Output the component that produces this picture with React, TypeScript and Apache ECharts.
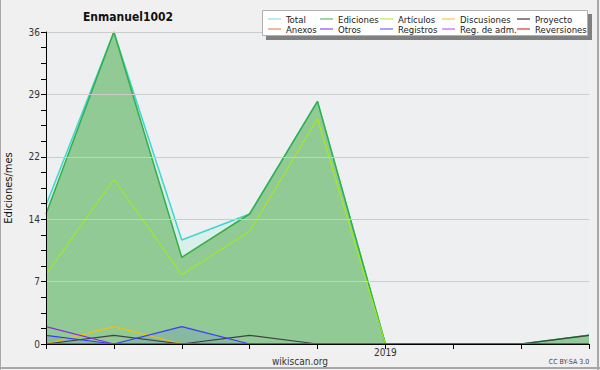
import React, { useEffect, useRef } from "react";
import * as echarts from "echarts";

const months = ["2018-08", "2018-09", "2018-10", "2018-11", "2018-12", "2019-01", "2019-02", "2019-03", "2019-04"];
const yearLabels = ["", "", "", "", "", "2019", "", "", ""];
const yTickLabels = ["0", "7", "14", "22", "29", "36"];

const total = [16, 36, 12, 15, 28, 0, 0, 0, 1];
const ediciones = [15, 36, 10, 15, 28, 0, 0, 0, 1];
const articulos = [8, 19, 8, 13, 26, 0, 0, 0, 0];
const discusiones = [0, 2, 0, 0, 0, 0, 0, 0, 0];
const proyecto = [0, 1, 0, 1, 0, 0, 0, 0, 1];
const anexos = [0, 0, 0, 0, 0, 0, 0, 0, 0];
const otros = [2, 0, 0, 0, 0, 0, 0, 0, 0];
const registros = [1, 0, 2, 0, 0, 0, 0, 0, 0];
const regAdm = [0, 0, 0, 0, 0, 0, 0, 0, 0];
const reversiones = [0, 0, 0, 0, 0, 0, 0, 0, 0];

const seriesNames = ["Total", "Ediciones", "Artículos", "Discusiones", "Proyecto", "Anexos", "Otros", "Registros", "Reg. de adm.", "Reversiones"];
const seriesValues = [total, ediciones, articulos, discusiones, proyecto, anexos, otros, registros, regAdm, reversiones];
const lineColors = ["#3fd6cf", "#35ae45", "#aaf000", "#f2c200", "#404040", "#f07030", "#8a2be2", "#3a3aff", "#c040e0", "#e02020"];
const legendColors = ["#a8e4e0", "#80c888", "#c8f070", "#f2d470", "#606060", "#f0a070", "#a070f0", "#8888f0", "#d080f0", "#e06060"];
const areaColors: (string | null)[] = ["#d9efe9", "#92ca96", null, null, null, null, null, "rgba(60,60,255,0.12)", null, null];
const lineWidths = [1.5, 1.5, 1, 1.2, 1.2, 1, 1.2, 1.2, 1, 1];

const FONT = "'DejaVu Sans Condensed', 'DejaVu Sans', sans-serif";
const legendCols = [268, 320, 380, 442, 517];

export default function App() {
  const ref = useRef<HTMLDivElement>(null);
  useEffect(() => {
    if (!ref.current) return;
    const chart = echarts.init(ref.current, null, { renderer: "svg" });
    const series = seriesNames.map((name, i) => ({
      name,
      type: "line",
      data: seriesValues[i],
      symbol: "none",
      lineStyle: { color: lineColors[i], width: lineWidths[i] },
      itemStyle: { color: lineColors[i] },
      areaStyle: areaColors[i] ? { color: areaColors[i], opacity: 1 } : undefined,
      z: 2,
    }));
    const legends = legendCols.map((left, c) => ({
      orient: "vertical",
      left,
      top: 14,
      padding: 0,
      icon: "rect",
      itemWidth: 13,
      itemHeight: 1.5,
      itemGap: 0,
      selectedMode: false,
      z: 20,
      textStyle: { fontFamily: FONT, fontSize: 9.5, lineHeight: 10, color: "#222" },
      data: [c, c + 5].map((k) => ({
        name: seriesNames[k],
        itemStyle: { color: legendColors[k] },
      })),
    }));
    chart.setOption({
      animation: false,
      backgroundColor: "#f0f0f0",
      grid: { left: 46, right: 11, top: 32, bottom: 26, outerBoundsMode: "none", containLabel: false, show: true, backgroundColor: "#eeeff1", borderWidth: 0 },
      legend: legends,
      xAxis: {
        type: "category",
        data: months,
        boundaryGap: false,
        z: 10,
        axisLine: { lineStyle: { color: "#000", width: 1 } },
        axisTick: { show: true, length: 5, lineStyle: { color: "#000" }, interval: 0 },
        axisLabel: {
          interval: 0,
          margin: 3,
          fontFamily: FONT,
          fontSize: 10,
          color: "#333",
          formatter: (_v: string, i: number) => yearLabels[i],
        },
        splitLine: { show: false },
      },
      yAxis: {
        type: "value",
        min: 0,
        max: 36,
        interval: 7.2,
        z: 10,
        name: "Ediciones/mes",
        nameLocation: "middle",
        nameGap: 32,
        nameRotate: 90,
        nameTextStyle: { fontFamily: FONT, fontSize: 11, color: "#111" },
        axisLine: { show: true, lineStyle: { color: "#000", width: 1 } },
        axisTick: { show: true, length: 5, lineStyle: { color: "#000" } },
        minorTick: { show: true, splitNumber: 4, length: 5, lineStyle: { color: "#000" } },
        axisLabel: {
          margin: 6,
          fontFamily: FONT,
          fontSize: 10,
          color: "#333",
          formatter: (v: number) => yTickLabels[Math.round(v / 7.2)] ?? "",
        },
        splitLine: { show: true, lineStyle: { color: "#cccccc", width: 1 } },
      },
      series,
      graphic: [
        { type: "rect", z: 15, shape: { x: 266, y: 14, width: 326, height: 26 }, style: { fill: "#808080" } },
        { type: "rect", z: 16, shape: { x: 262.5, y: 10.5, width: 325, height: 25 }, style: { fill: "#ffffff", stroke: "#b0b0b0", lineWidth: 1 } },
        { type: "text", z: 20, x: 128, y: 17, style: { text: "Enmanuel1002", fontFamily: FONT, fontWeight: "bold", fontSize: 12, fill: "#111", textAlign: "center", textVerticalAlign: "middle" } },
        { type: "text", z: 20, x: 300, y: 361, style: { text: "wikiscan.org", fontFamily: FONT, fontSize: 10, fill: "#333", textAlign: "center", textVerticalAlign: "middle" } },
        { type: "text", z: 20, x: 569, y: 362, style: { text: "CC BY-SA 3.0", fontFamily: FONT, fontSize: 7, fill: "#444", textAlign: "center", textVerticalAlign: "middle" } },
        { type: "line", z: 20, shape: { x1: 0.5, y1: 0, x2: 0.5, y2: 370 }, style: { stroke: "#a8a8a8", lineWidth: 1 } },
        { type: "line", z: 20, shape: { x1: 598, y1: 0, x2: 598, y2: 370 }, style: { stroke: "#a8a8a8", lineWidth: 2 } },
        { type: "line", z: 20, shape: { x1: 0, y1: 368, x2: 600, y2: 368 }, style: { stroke: "#a8a8a8", lineWidth: 2 } },
      ],
    });
    return () => chart.dispose();
  }, []);
  return <div ref={ref} style={{ position: "fixed", left: 0, top: 0, width: 600, height: 370 }} />;
}
